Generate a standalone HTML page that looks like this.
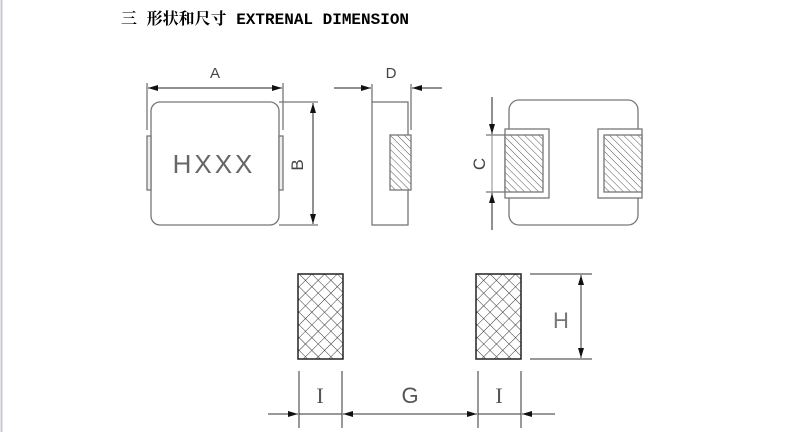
<!DOCTYPE html>
<html><head><meta charset="utf-8"><style>
html,body{margin:0;padding:0;background:#fff;width:794px;height:432px;overflow:hidden}
svg{display:block}
</style></head><body>
<svg width="794" height="432" viewBox="0 0 794 432" xmlns="http://www.w3.org/2000/svg">
<defs>
<pattern id="hat" width="5" height="5" patternUnits="userSpaceOnUse" patternTransform="rotate(-45)">
<rect width="5" height="5" fill="#fff"/><line x1="0" y1="0" x2="0" y2="5" stroke="#555" stroke-width="1"/></pattern>
<pattern id="xh" width="9" height="9" patternUnits="userSpaceOnUse" patternTransform="rotate(45)">
<rect width="9" height="9" fill="#fff"/><line x1="0" y1="0" x2="9" y2="0" stroke="#333" stroke-width="1"/><line x1="0" y1="0" x2="0" y2="9" stroke="#333" stroke-width="1"/></pattern>
<marker id="ar" markerWidth="10" markerHeight="6" refX="10" refY="3" orient="auto" markerUnits="userSpaceOnUse"><path d="M0,0 L10,3 L0,6 Z" fill="#111"/></marker>
</defs>
<line x1="1.5" y1="0" x2="1.5" y2="432" stroke="#c8c8d0" stroke-width="2"/>
<text x="121" y="24" font-family="Liberation Mono, 'Noto Serif CJK SC', monospace" font-size="16" font-weight="bold" fill="#000">三 形状和尺寸 EXTRENAL DIMENSION</text>
<g fill="none" stroke="#777" stroke-width="1.3">
<rect x="151" y="102" width="128" height="123" rx="9"/>
<rect x="147" y="136" width="4" height="54" fill="#eee"/>
<rect x="279" y="136" width="4" height="54" fill="#eee"/>
<line x1="147" y1="83" x2="147" y2="130"/><line x1="283" y1="83" x2="283" y2="130"/>
<line x1="279" y1="102" x2="318" y2="102"/><line x1="279" y1="225" x2="318" y2="225"/>
<rect x="372" y="102" width="36" height="123"/>
<rect x="390" y="135" width="21" height="55" fill="url(#hat)"/>
<line x1="372" y1="84" x2="372" y2="102"/><line x1="411" y1="84" x2="411" y2="130"/>
<rect x="509" y="100" width="129" height="125" rx="10"/>
<rect x="505" y="129" width="44" height="69" fill="#fff"/>
<rect x="505" y="135" width="38" height="57" fill="url(#hat)"/>
<rect x="598" y="129" width="44" height="69" fill="#fff"/>
<rect x="604" y="135" width="38" height="57" fill="url(#hat)"/>
<line x1="486" y1="135" x2="505" y2="135"/><line x1="486" y1="192" x2="505" y2="192"/>
</g>
<g stroke="#222" stroke-width="1" fill="none">
<line x1="215" y1="88" x2="282" y2="88" marker-end="url(#ar)"/>
<line x1="215" y1="88" x2="148" y2="88" marker-end="url(#ar)"/>
<line x1="313" y1="164" x2="313" y2="103" marker-end="url(#ar)"/>
<line x1="313" y1="164" x2="313" y2="224" marker-end="url(#ar)"/>
<line x1="334" y1="88" x2="371" y2="88" marker-end="url(#ar)"/>
<line x1="442" y1="88" x2="412" y2="88" marker-end="url(#ar)"/>
<line x1="492" y1="97" x2="492" y2="134" marker-end="url(#ar)"/>
<line x1="492" y1="230" x2="492" y2="193" marker-end="url(#ar)"/>
<line x1="492" y1="134" x2="492" y2="193" stroke="#888"/>
</g>
<g font-family="Liberation Sans, sans-serif" fill="#444">
<text x="215" y="78" font-size="15" text-anchor="middle">A</text>
<text x="391" y="78" font-size="15" text-anchor="middle">D</text>
<text x="214" y="173" font-size="26" text-anchor="middle" fill="#666" letter-spacing="3">HXXX</text>
<text transform="translate(303,165) rotate(-90)" font-size="17" text-anchor="middle">B</text>
<text transform="translate(485,164) rotate(-90)" font-size="17" text-anchor="middle">C</text>
</g>
<rect x="298" y="274" width="45" height="85" fill="url(#xh)" stroke="#222" stroke-width="1.5"/>
<rect x="476" y="274" width="45" height="85" fill="url(#xh)" stroke="#222" stroke-width="1.5"/>
<g stroke="#333" stroke-width="1" fill="none">
<line x1="530" y1="274" x2="592" y2="274"/><line x1="530" y1="359" x2="592" y2="359"/>
<line x1="581" y1="316" x2="581" y2="275" marker-end="url(#ar)"/>
<line x1="581" y1="316" x2="581" y2="358" marker-end="url(#ar)"/>
<line x1="299" y1="371" x2="299" y2="428"/><line x1="342" y1="371" x2="342" y2="428"/>
<line x1="478" y1="371" x2="478" y2="428"/><line x1="521" y1="371" x2="521" y2="428"/>
<line x1="268" y1="414" x2="298" y2="414" marker-end="url(#ar)"/>
<line x1="299" y1="414" x2="342" y2="414"/>
<line x1="410" y1="414" x2="343" y2="414" marker-end="url(#ar)"/>
<line x1="410" y1="414" x2="477" y2="414" marker-end="url(#ar)"/>
<line x1="478" y1="414" x2="521" y2="414"/>
<line x1="555" y1="414" x2="522" y2="414" marker-end="url(#ar)"/>
</g>
<g font-family="Liberation Sans, sans-serif" fill="#555" font-size="22" text-anchor="middle">
<text x="561" y="328" fill="#777">H</text>
<text x="320" y="403" font-family="Liberation Serif, serif">I</text>
<text x="410" y="403">G</text>
<text x="499" y="403" font-family="Liberation Serif, serif">I</text>
</g>
</svg>
</body></html>
